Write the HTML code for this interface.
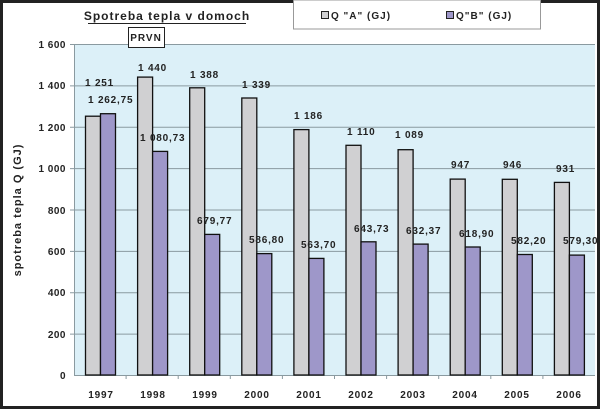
<!DOCTYPE html>
<html><head><meta charset="utf-8"><style>
html,body{margin:0;padding:0;background:#fff;width:600px;height:410px;overflow:hidden}
svg text{font-family:"Liberation Sans",Arial,sans-serif;font-weight:bold;fill:#222}
</style></head><body>
<svg width="600" height="410" xmlns="http://www.w3.org/2000/svg">
<rect x="1.5" y="1.5" width="597" height="406" fill="#fff" stroke="#222" stroke-width="3"/>
<rect x="74" y="44" width="521" height="331" fill="#dcf0f8"/>
<g stroke="#8a9aa0" stroke-width="1">
<line x1="70" y1="44.5" x2="595" y2="44.5"/>
<line x1="70" y1="85.9" x2="595" y2="85.9"/>
<line x1="70" y1="127.3" x2="595" y2="127.3"/>
<line x1="70" y1="168.6" x2="595" y2="168.6"/>
<line x1="70" y1="210" x2="595" y2="210"/>
<line x1="70" y1="251.4" x2="595" y2="251.4"/>
<line x1="70" y1="292.7" x2="595" y2="292.7"/>
<line x1="70" y1="334.1" x2="595" y2="334.1"/>
<line x1="74" y1="375.5" x2="595" y2="375.5"/>
<line x1="74.5" y1="44" x2="74.5" y2="375"/>
</g>
<g stroke="#8a9aa0">
<line x1="126.1" y1="375" x2="126.1" y2="379"/><line x1="178.2" y1="375" x2="178.2" y2="379"/>
<line x1="230.3" y1="375" x2="230.3" y2="379"/><line x1="282.4" y1="375" x2="282.4" y2="379"/>
<line x1="334.5" y1="375" x2="334.5" y2="379"/><line x1="386.6" y1="375" x2="386.6" y2="379"/>
<line x1="438.7" y1="375" x2="438.7" y2="379"/><line x1="490.8" y1="375" x2="490.8" y2="379"/>
<line x1="542.9" y1="375" x2="542.9" y2="379"/>
</g>
<g font-size="10" text-anchor="end" letter-spacing="0.5">
<text x="66" y="48">1 600</text><text x="66" y="89">1 400</text><text x="66" y="131">1 200</text>
<text x="66" y="172">1 000</text><text x="66" y="214">800</text><text x="66" y="255">600</text>
<text x="66" y="296">400</text><text x="66" y="338">200</text><text x="66" y="379">0</text>
</g>
<text font-size="11" letter-spacing="1" transform="translate(21,210) rotate(-90)" text-anchor="middle">spotreba tepla Q (GJ)</text>
<g stroke="#111" stroke-width="1.3">
<rect x="85.5" y="116.2" width="15" height="258.8" fill="#d0d0d2"/><rect x="100.5" y="113.7" width="15" height="261.3" fill="#9e97c9"/>
<rect x="137.6" y="77.1" width="15" height="297.9" fill="#d0d0d2"/><rect x="152.6" y="151.4" width="15" height="223.6" fill="#9e97c9"/>
<rect x="189.7" y="87.8" width="15" height="287.2" fill="#d0d0d2"/><rect x="204.7" y="234.4" width="15" height="140.6" fill="#9e97c9"/>
<rect x="241.8" y="98" width="15" height="277" fill="#d0d0d2"/><rect x="256.8" y="253.6" width="15" height="121.4" fill="#9e97c9"/>
<rect x="293.9" y="129.6" width="15" height="245.4" fill="#d0d0d2"/><rect x="308.9" y="258.4" width="15" height="116.6" fill="#9e97c9"/>
<rect x="346" y="145.3" width="15" height="229.7" fill="#d0d0d2"/><rect x="361" y="241.8" width="15" height="133.2" fill="#9e97c9"/>
<rect x="398.1" y="149.7" width="15" height="225.3" fill="#d0d0d2"/><rect x="413.1" y="244.1" width="15" height="130.9" fill="#9e97c9"/>
<rect x="450.2" y="179.1" width="15" height="195.9" fill="#d0d0d2"/><rect x="465.2" y="247" width="15" height="128" fill="#9e97c9"/>
<rect x="502.3" y="179.3" width="15" height="195.7" fill="#d0d0d2"/><rect x="517.3" y="254.5" width="15" height="120.5" fill="#9e97c9"/>
<rect x="554.4" y="182.4" width="15" height="192.6" fill="#d0d0d2"/><rect x="569.4" y="255.1" width="15" height="119.9" fill="#9e97c9"/>
</g>
<g font-size="10" letter-spacing="0.8">
<text x="85" y="86">1 251</text><text x="88" y="103">1 262,75</text>
<text x="138" y="71">1 440</text><text x="140" y="141">1 080,73</text>
<text x="190" y="78">1 388</text><text x="197" y="224">679,77</text>
<text x="242" y="88">1 339</text><text x="249" y="243">586,80</text>
<text x="294" y="119">1 186</text><text x="301" y="248">563,70</text>
<text x="347" y="135">1 110</text><text x="354" y="232">643,73</text>
<text x="395" y="138">1 089</text><text x="406" y="234">632,37</text>
<text x="451" y="168">947</text><text x="459" y="237">618,90</text>
<text x="503" y="168">946</text><text x="511" y="244">582,20</text>
<text x="556" y="172">931</text><text x="563" y="244">579,30</text>
</g>
<g font-size="10" text-anchor="middle" letter-spacing="0.8">
<text x="101" y="398">1997</text><text x="153" y="398">1998</text><text x="205" y="398">1999</text>
<text x="257" y="398">2000</text><text x="309" y="398">2001</text><text x="361" y="398">2002</text>
<text x="413" y="398">2003</text><text x="465" y="398">2004</text><text x="517" y="398">2005</text>
<text x="569" y="398">2006</text>
</g>
<text x="167" y="20" font-size="12" text-anchor="middle" letter-spacing="1">Spotreba tepla v domoch</text>
<line x1="88" y1="23.5" x2="246" y2="23.5" stroke="#222" stroke-width="1"/>
<rect x="128.5" y="27.5" width="36" height="20" fill="#fff" stroke="#222"/>
<text x="146" y="41" font-size="10" text-anchor="middle" letter-spacing="1">PRVN</text>
<rect x="293.5" y="0" width="247" height="29" fill="#fff" stroke="#999"/>
<rect x="321.5" y="11.5" width="7" height="7" fill="#d0d0d2" stroke="#222"/>
<text x="331" y="19" font-size="10" letter-spacing="1">Q "A" (GJ)</text>
<rect x="446.5" y="11.5" width="7" height="7" fill="#9e97c9" stroke="#222"/>
<text x="456" y="19" font-size="10" letter-spacing="1">Q"B" (GJ)</text>
</svg>
</body></html>
